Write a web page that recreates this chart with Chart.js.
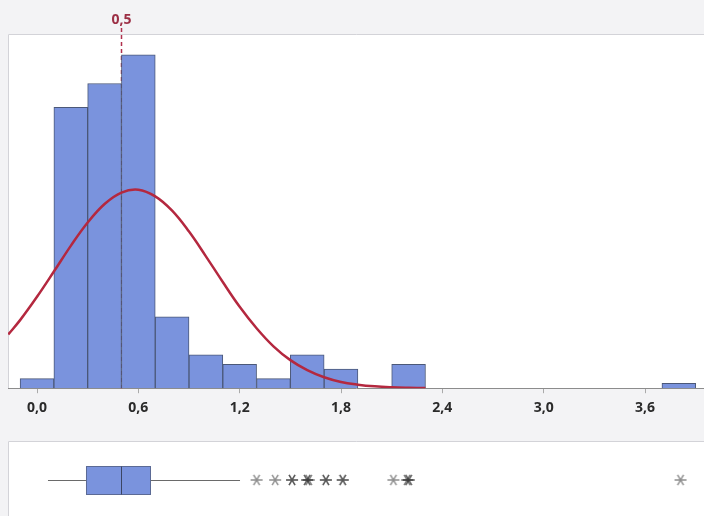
<!DOCTYPE html>
<html>
<head>
<meta charset="utf-8">
<script src="https://cdn.jsdelivr.net/npm/chart.js@4"></script>
<style>
  body { margin: 0; background: #f3f3f5; }
  #hist { position: absolute; left: 0; top: 0; }
  #box { position: absolute; left: 0; top: 441px; }
</style>
</head>
<body>
<canvas id="hist" width="704" height="422"></canvas>
<canvas id="box" width="704" height="75"></canvas>
<script>
// histogram bins (centres) and counts
const BIN_CENTERS = [0.0, 0.2, 0.4, 0.6, 0.8, 1.0, 1.2, 1.4, 1.6, 1.8, 2.0, 2.2, 2.4, 2.6, 2.8, 3.0, 3.2, 3.4, 3.6, 3.8];
const BIN_COUNTS  = [2, 59, 64, 70, 15, 7, 5, 2, 7, 4, 0, 5, 0, 0, 0, 0, 0, 0, 0, 1];

// fitted normal curve
const CURVE_X = [-0.17, -0.1, 0.0, 0.1, 0.2, 0.3, 0.4, 0.5, 0.6, 0.7, 0.8, 0.9, 1.0, 1.1, 1.2, 1.3, 1.4, 1.5, 1.6, 1.7, 1.8, 1.9, 2.0, 2.1, 2.2, 2.3];
const CURVE_Y = [11.3, 14.3, 19.2, 24.5, 29.9, 34.8, 38.7, 41.1, 41.7, 40.3, 37.3, 32.9, 27.7, 22.3, 17.1, 12.6, 8.8, 5.9, 3.8, 2.3, 1.3, 0.74, 0.39, 0.2, 0.1, 0.04];

const X_TICKS = [0.0, 0.6, 1.2, 1.8, 2.4, 3.0, 3.6];
const X_MIN = -0.1717;
const X_MAX = 3.949;
const Y_MAX = 74.4;

const REF_VALUE = 0.5;
const REF_LABEL = "0,5";

// boxplot: whisker low, Q1, median, Q3, whisker high
const BOX = [0.065, 0.29, 0.497, 0.669, 1.202];
const OUTLIERS = [1.30, 1.41, 1.51, 1.51, 1.60, 1.60, 1.61, 1.71, 1.71, 1.81, 1.81, 2.11, 2.19, 2.20, 2.20, 3.81];
const BOX_Y = 0.48;

const BAR_FILL = "#7a93dd";
const BAR_EDGE = "#4b5878";
const CURVE_COLOR = "#b4283f";

const fmt = v => v.toFixed(1).replace(".", ",");

const panelPlugin = {
  id: "panel",
  beforeDraw(chart) {
    const { ctx, chartArea: a } = chart;
    ctx.save();
    ctx.fillStyle = "#ffffff";
    ctx.fillRect(a.left, a.top, a.right - a.left, a.bottom - a.top);
    ctx.strokeStyle = "#d3d3d8";
    ctx.lineWidth = 1;
    ctx.beginPath();
    ctx.moveTo(a.left + 0.5, a.bottom);
    ctx.lineTo(a.left + 0.5, a.top + 0.5);
    ctx.lineTo(a.right, a.top + 0.5);
    ctx.stroke();
    ctx.restore();
  }
};

/* ── reference line at the median ── */
const refPlugin = {
  id: "refLine",
  beforeDatasetsDraw(chart) {
    const { ctx, chartArea: a, scales } = chart;
    const x = Math.round(scales.x.getPixelForValue(REF_VALUE)) + 0.5;
    ctx.save();
    ctx.strokeStyle = "#b0304d";
    ctx.lineWidth = 1.5;
    ctx.setLineDash([4, 3]);
    ctx.beginPath();
    ctx.moveTo(x, 28);
    ctx.lineTo(x, a.bottom);
    ctx.stroke();
    ctx.restore();
  },
  afterDraw(chart) {
    const { ctx, scales } = chart;
    const x = scales.x.getPixelForValue(REF_VALUE);
    ctx.save();
    ctx.fillStyle = "#9c2f45";
    ctx.font = "bold 14px 'Open Sans'";
    ctx.textAlign = "center";
    ctx.textBaseline = "middle";
    ctx.fillText(REF_LABEL, x, 20);
    ctx.restore();
  }
};

new Chart(document.getElementById("hist"), {
  data: {
    datasets: [
      {
        type: "bar",
        data: BIN_CENTERS.map((c, i) => ({ x: c, y: BIN_COUNTS[i] })),
        backgroundColor: BAR_FILL,
        borderColor: BAR_EDGE,
        borderWidth: 1,
        barPercentage: 1,
        categoryPercentage: 1,
        order: 2,
      },
      {
        type: "line",
        data: CURVE_X.map((x, i) => ({ x, y: CURVE_Y[i] })),
        borderColor: CURVE_COLOR,
        borderWidth: 2.5,
        pointRadius: 0,
        tension: 0.4,
        fill: false,
        order: 1,
      },
    ],
  },
  options: {
    responsive: false,
    animation: false,
    layout: { autoPadding: false, padding: { top: 34, left: 8, right: 0, bottom: 0 } },
    plugins: { legend: { display: false }, tooltip: { enabled: false } },
    scales: {
      x: {
        type: "linear",
        offset: false,
        min: X_MIN,
        max: X_MAX,
        afterBuildTicks: s => { s.ticks = X_TICKS.map(v => ({ value: v })); },
        ticks: { callback: v => fmt(v), color: "#2a2a2a", font: { family: "'Open Sans'", size: 14, weight: "bold" }, padding: 6, maxRotation: 0 },
        grid: { offset: false, drawOnChartArea: false, tickLength: 5, color: "#aaaaaa" },
        border: { color: "#8c8c8c" },
      },
      y: { display: false, min: 0, max: Y_MAX },
    },
  },
  plugins: [panelPlugin, refPlugin],
});

/* ── boxplot ── */
function asterisk() {
  const c = document.createElement("canvas");
  c.width = 14; c.height = 14;
  const g = c.getContext("2d");
  g.strokeStyle = "rgba(30,30,30,0.5)";
  g.lineWidth = 1.4;
  g.beginPath();
  for (const deg of [0, 60, 120]) {
    const r = deg * Math.PI / 180;
    g.moveTo(7 - 6 * Math.cos(r), 7 - 6 * Math.sin(r));
    g.lineTo(7 + 6 * Math.cos(r), 7 + 6 * Math.sin(r));
  }
  g.stroke();
  return c;
}

const boxPlugin = {
  id: "boxplot",
  beforeDatasetsDraw(chart) {
    const { ctx, scales } = chart;
    const px = v => scales.x.getPixelForValue(v);
    const y = Math.round(scales.y.getPixelForValue(BOX_Y)) + 0.5;
    const h = 14;
    const [lo, q1, med, q3, hi] = BOX.map(px);
    ctx.save();
    ctx.strokeStyle = "#6a6a6a";
    ctx.lineWidth = 1;
    ctx.beginPath();
    ctx.moveTo(lo, y); ctx.lineTo(q1, y);
    ctx.moveTo(q3, y); ctx.lineTo(hi, y);
    ctx.stroke();
    ctx.fillStyle = BAR_FILL;
    ctx.fillRect(q1, y - h, q3 - q1, 2 * h);
    ctx.strokeStyle = "#5b6a95";
    ctx.strokeRect(Math.round(q1) + 0.5, y - h, Math.round(q3 - q1), 2 * h);
    ctx.strokeStyle = "#3b4563";
    ctx.beginPath();
    ctx.moveTo(Math.round(med) + 0.5, y - h);
    ctx.lineTo(Math.round(med) + 0.5, y + h);
    ctx.stroke();
    ctx.restore();
  }
};

new Chart(document.getElementById("box"), {
  type: "scatter",
  data: {
    datasets: [{
      data: OUTLIERS.map(v => ({ x: v, y: BOX_Y })),
      pointStyle: asterisk(),
    }],
  },
  options: {
    responsive: false,
    animation: false,
    layout: { autoPadding: false, padding: { top: 0, left: 8, right: 0, bottom: 0 } },
    plugins: { legend: { display: false }, tooltip: { enabled: false } },
    scales: {
      x: { type: "linear", display: false, min: X_MIN, max: X_MAX },
      y: { display: false, min: 0, max: 1 },
    },
  },
  plugins: [panelPlugin, boxPlugin],
});
</script>
</body>
</html>
